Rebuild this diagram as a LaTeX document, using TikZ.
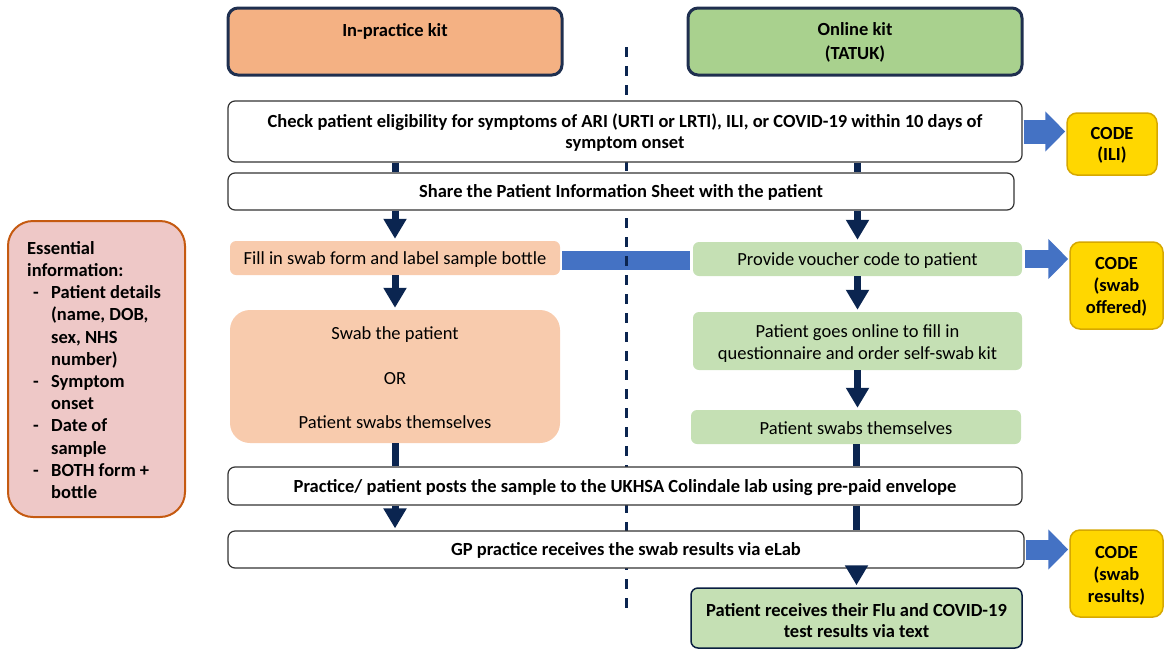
\documentclass[tikz,border=0pt]{standalone}
\usepackage{fontspec}
\setmainfont{Carlito}
\usetikzlibrary{arrows.meta}
\pgfdeclarelayer{background}
\pgfsetlayers{background,main}
\definecolor{navy}{HTML}{0B2550}
\definecolor{hdrborder}{HTML}{1F2F4F}
\definecolor{hdrorange}{HTML}{F4B183}
\definecolor{hdrgreen}{HTML}{A9D18E}
\definecolor{lorange}{HTML}{F8CBAD}
\definecolor{lgreen}{HTML}{C5E0B4}
\definecolor{pinkfill}{HTML}{EEC8C7}
\definecolor{pinkborder}{HTML}{C55A11}
\definecolor{codefill}{HTML}{FFD700}
\definecolor{codeborder}{HTML}{D6A800}
\definecolor{bluearr}{HTML}{4472C4}
\definecolor{boxborder}{HTML}{333333}
\tikzset{
  txt/.style={font=\fontsize{18.5}{21}\selectfont, align=center, inner sep=0pt},
  btxt/.style={font=\fontsize{18.5}{21}\selectfont\bfseries, align=center, inner sep=0pt},
  hdrbox/.style={draw=hdrborder, line width=3pt, rounded corners=10pt},
  whitebox/.style={draw=boxborder, fill=white, line width=1.2pt, rounded corners=7pt, inner sep=0pt},
  obox/.style={fill=lorange, rounded corners=6pt, inner sep=0pt},
  gbox/.style={fill=lgreen, rounded corners=6pt, inner sep=0pt},
  codebox/.style={draw=codeborder, fill=codefill, line width=1.5pt, rounded corners=10pt, inner sep=0pt},
  navbar/.style={draw=navy, line width=7pt},
  navarr/.style={draw=navy, line width=7pt, -{Triangle[width=22pt,length=20pt]}, shorten >=2pt},
  bluearrow/.style={draw=bluearr, -{Triangle[width=39pt,length=20pt]}},
}
\begin{document}
\begin{tikzpicture}[x=1pt,y=-1pt]
\useasboundingbox (0,0) rectangle (1164,648);
% headers
\node[hdrbox, fill=hdrorange, minimum width=334pt, minimum height=67pt] (hL) at (395,41.5) {};
\node[btxt] (hLt) at (395,31) {In-practice kit};
\node[hdrbox, fill=hdrgreen, minimum width=334pt, minimum height=67pt] (hR) at (855,41.5) {};
\node[btxt, font=\fontsize{18.5}{24}\selectfont\bfseries] (hRt) at (855,42.5) {Online kit\\(TATUK)};
% main boxes
\node[whitebox, minimum width=794pt, minimum height=61pt] (check) at (625,131.5) {};
\node[btxt] (checkt) at (625,133) {Check patient eligibility for symptoms of ARI (URTI or LRTI), ILI, or COVID-19 within 10 days of\\symptom onset};
\node[whitebox, minimum width=786pt, minimum height=37pt] (share) at (621,191.5) {};
\node[btxt] (sharet) at (621,192.5) {Share the Patient Information Sheet with the patient};
\node[obox, minimum width=330pt, minimum height=34pt] (fill) at (395,258) {};
\node[txt] (fillt) at (395,259.5) {Fill in swab form and label sample bottle};
\node[gbox, minimum width=329pt, minimum height=34pt] (voucher) at (857.5,259) {};
\node[txt] (vouchert) at (857.5,260.5) {Provide voucher code to patient};
\node[obox, rounded corners=20pt, minimum width=330pt, minimum height=133pt] (swab) at (395,376.5) {};
\node[txt, font=\fontsize{18.5}{22.2}\selectfont] (swabt) at (395,378) {Swab the patient\\[22.2pt]OR\\[22.2pt]Patient swabs themselves};
\node[gbox, minimum width=329pt, minimum height=58pt] (online) at (857.5,341) {};
\node[txt, font=\fontsize{18.5}{22}\selectfont] (onlinet) at (857.5,344) {Patient goes online to fill in\\questionnaire and order self-swab kit};
\node[gbox, minimum width=330pt, minimum height=34pt] (pswab) at (856,427) {};
\node[txt] (pswabt) at (856,428.5) {Patient swabs themselves};
\node[whitebox, minimum width=794pt, minimum height=38pt] (posts) at (625,486) {};
\node[btxt] (postst) at (625,488) {Practice/ patient posts the sample to the UKHSA Colindale lab using pre-paid envelope};
\node[whitebox, minimum width=796pt, minimum height=37pt] (gp) at (626,549.5) {};
\node[btxt] (gpt) at (626,550.5) {GP practice receives the swab results via eLab};
\node[whitebox, fill=lgreen, draw=navy!80!black, line width=1.5pt, minimum width=331pt, minimum height=60pt] (recv) at (856.5,618) {};
\node[btxt] (recvt) at (856.5,621) {Patient receives their Flu and COVID-19\\test results via text};
% code boxes
\node[codebox, minimum width=90pt, minimum height=62pt] (cILI) at (1112,144) {};
\node[btxt] (cILIt) at (1112,145.5) {CODE\\(ILI)};
\node[codebox, minimum width=93pt, minimum height=87pt] (cOff) at (1116.5,285.5) {};
\node[btxt, font=\fontsize{18.5}{22}\selectfont\bfseries] (cOfft) at (1116.5,287) {CODE\\(swab\\offered)};
\node[codebox, minimum width=93pt, minimum height=87pt] (cRes) at (1116.5,573.5) {};
\node[btxt, font=\fontsize{18.5}{22}\selectfont\bfseries] (cRest) at (1116.5,576) {CODE\\(swab\\results)};
% essential info
\node[draw=pinkborder, fill=pinkfill, line width=2pt, rounded corners=25pt, minimum width=177pt, minimum height=296pt] (ess) at (96.5,369) {};
\node[btxt, align=left, anchor=west, font=\fontsize{18.5}{22.2}\selectfont\bfseries] (esst) at (27,370) {Essential\\information:\\\hspace*{6pt}\makebox[18pt][l]{-}Patient details\\\hspace*{24pt}(name, DOB,\\\hspace*{24pt}sex, NHS\\\hspace*{24pt}number)\\\hspace*{6pt}\makebox[18pt][l]{-}Symptom\\\hspace*{24pt}onset\\\hspace*{6pt}\makebox[18pt][l]{-}Date of\\\hspace*{24pt}sample\\\hspace*{6pt}\makebox[18pt][l]{-}BOTH form +\\\hspace*{24pt}bottle};
% background: blue bar and dashed divider
\begin{pgfonlayer}{background}
\draw[draw=bluearr, line width=19pt] ([xshift=2pt]fill.east |- 0,260) -- ([xshift=-3pt]voucher.west |- 0,260);
\coordinate (dtop) at (626,47);
\coordinate (dbot) at (626,615);
\draw[navy, line width=3pt, dash pattern=on 10pt off 9pt] (dtop) -- (dbot);
\end{pgfonlayer}
% navy connectors
\draw[navbar] (check.south -| fill.north) -- (share.north -| fill.north);
\draw[navbar] (check.south -| voucher.north) -- (share.north -| voucher.north);
\draw[navarr] (share.south -| fill.north) -- (fill.north);
\draw[navarr] (share.south -| voucher.north) -- (voucher.north);
\draw[navarr] (fill.south) -- (swab.north);
\draw[navarr] (voucher.south) -- (online.north);
\draw[navarr] (online.south) -- (pswab.north -| online.south);
\draw[navbar] (swab.south) -- (posts.north -| swab.south);
\draw[navbar] (pswab.south) -- (posts.north -| pswab.south);
\draw[navarr] (posts.south -| swab.south) -- (gp.north -| swab.south);
\draw[navbar] (posts.south -| pswab.south) -- (gp.north -| pswab.south);
\draw[navarr] (gp.south -| recv.north) -- (recv.north);
% blue block arrows
\draw[bluearrow, line width=24pt] ([xshift=1pt]check.east) -- ([xshift=-1pt]check.east -| cILI.west);
\draw[bluearrow, line width=18pt] ([xshift=3pt]voucher.east) -- ([xshift=-1pt]voucher.east -| cOff.west);
\draw[bluearrow, line width=20pt] ([xshift=1pt]gp.east) -- ([xshift=-1pt]gp.east -| cRes.west);
\end{tikzpicture}
\end{document}
